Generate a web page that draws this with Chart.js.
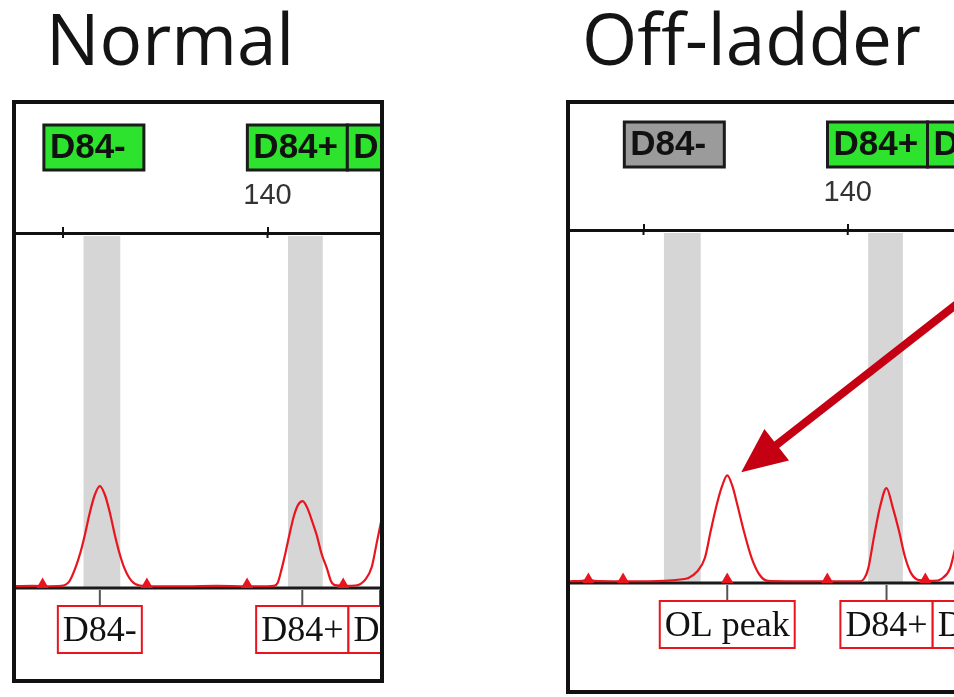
<!DOCTYPE html>
<html>
<head>
<meta charset="utf-8">
<script src="https://cdn.jsdelivr.net/npm/chart.js@4.4.1/dist/chart.umd.min.js"></script>
<style>
  html, body { margin: 0; padding: 0; background: #fff; overflow: hidden; width: 954px; height: 697px; }
  .title { position: absolute; top: 2px; font-family: 'Open Sans', sans-serif; font-size: 71px; line-height: 71px; color: #141414; white-space: nowrap; }
  .panel { position: absolute; border: 4px solid #111; background: #fff; }
  .panel canvas { display: block; }
</style>
</head>
<body>
<div class="title" style="left:46px">Normal</div>
<div class="title" style="left:582px">Off-ladder</div>
<div class="panel" style="left:12px;top:100px;width:364px;height:575px"><canvas id="normal" width="364" height="575"></canvas></div>
<div class="panel" style="left:566px;top:100px;width:388px;height:586px;border-right:none"><canvas id="offladder" width="388" height="586"></canvas></div>
<script>
// size axis (bp)
const TICK_STEP = 10;
const LABELLED_TICKS = [140];

// marker bins (bp)
const binNames = ['D84-', 'D84+'];
const binStart = [131.0, 141.0];
const binEnd = [132.8, 142.7];

// normal sample
const normalBp = [127.7, 128.5, 129.3, 129.9, 130.3, 130.6, 130.85, 131.07, 131.3, 131.55, 131.8, 132.05, 132.3, 132.53, 132.75, 133.0, 133.35, 133.75, 134.5, 136.0, 137.5, 139.0, 140.0, 140.3, 140.5, 140.7, 140.9, 141.07, 141.3, 141.5, 141.72, 141.95, 142.2, 142.4, 142.65, 142.9, 143.1, 143.3, 143.8, 144.3, 144.8, 145.1, 145.35, 145.6];
const normalRfu = [5, 6, 5, 6, 18, 56, 100, 150, 210, 262, 287, 262, 210, 150, 100, 56, 20, 7, 5, 5, 6, 5, 5, 6, 15, 56, 105, 150, 205, 235, 245, 225, 185, 150, 95, 56, 20, 8, 6, 7, 25, 60, 130, 200];
const normalMarks = [129.0, 134.1, 139.0, 143.7];
const normalTopLabels = ['D84-', 'D84+', 'D85'];
const normalTopAt = [131.9, 141.85, 146.0];
const normalTopCalled = [true, true, true];
const normalPeakLabels = ['D84-', 'D84+', 'D85'];
const normalPeakAt = [131.8, 141.7, 145.5];

// off-ladder sample
const offBp = [126.4, 127.0, 127.3, 127.6, 128.5, 129.5, 130.3, 131.0, 131.8, 132.2, 132.6, 133.0, 133.3, 133.6, 133.85, 134.1, 134.35, 134.6, 134.9, 135.3, 135.7, 136.1, 137.0, 138.5, 139.5, 140.2, 140.6, 140.8, 141.0, 141.3, 141.6, 141.9, 142.2, 142.5, 142.8, 143.1, 143.5, 144.2, 144.6, 145.0, 145.25, 145.5];
const offRfu = [5, 6, 9, 6, 5, 5, 5, 6, 10, 14, 31, 70, 150, 225, 275, 305, 275, 220, 150, 70, 22, 6, 5, 5, 5, 5, 5, 12, 40, 135, 220, 269, 215, 150, 75, 28, 8, 6, 12, 40, 95, 150];
const offMarks = [127.3, 129.0, 134.1, 139.0, 143.8];
const offTopLabels = ['D84-', 'D84+', 'D85'];
const offTopAt = [131.9, 141.85, 146.0];
const offTopCalled = [false, true, true];
const offPeakLabels = ['OL peak', 'D84+', 'D85'];
const offPeakAt = [134.1, 141.9, 145.5];

const RED = '#e8141e';

function tracePlugin(cfg) {
  return {
    id: 'trace',
    beforeDatasetsDraw(chart) {
      const { ctx, chartArea: a, scales: { x, y } } = chart;
      const y0 = y.getPixelForValue(0);
      ctx.save();
      ctx.fillStyle = '#d6d6d6';
      binStart.forEach((s, i) => {
        const l = x.getPixelForValue(s);
        const r = x.getPixelForValue(binEnd[i]);
        ctx.fillRect(l, a.top + 3, r - l, y0 - a.top - 3);
      });
      ctx.strokeStyle = '#1a1a1a';
      ctx.lineWidth = 3;
      ctx.beginPath();
      ctx.moveTo(0, y0);
      ctx.lineTo(chart.width, y0);
      ctx.stroke();
      // tick marks cross the size axis
      ctx.strokeStyle = '#111';
      ctx.lineWidth = 2;
      x.ticks.forEach(t => {
        const px = x.getPixelForValue(t.value);
        ctx.beginPath();
        ctx.moveTo(px, a.top);
        ctx.lineTo(px, a.top + 5);
        ctx.stroke();
      });
      ctx.restore();
    },
    afterDraw(chart) {
      const { ctx, chartArea: a, scales: { x, y } } = chart;
      const y0 = y.getPixelForValue(0);
      ctx.save();

      // bin labels above the size axis
      ctx.font = 'bold 35px "Liberation Sans", Arial, sans-serif';
      ctx.textBaseline = 'middle';
      ctx.textAlign = 'left';
      let prev = -Infinity;
      cfg.topLabels.forEach((t, i) => {
        const w = Math.max(ctx.measureText(t).width + 14, 100);
        const left = Math.max(x.getPixelForValue(cfg.topAt[i]) - w / 2 - 8, prev);
        const top = a.top - 108, h = 45;
        ctx.fillStyle = cfg.topCalled[i] ? '#2de32d' : '#9b9b9b';
        ctx.fillRect(left, top, w, h);
        ctx.lineWidth = 3;
        ctx.strokeStyle = '#1b1b1b';
        ctx.strokeRect(left, top, w, h);
        ctx.fillStyle = '#111';
        ctx.fillText(t, left + 6, top + h / 2 + 1);
        prev = left + w;
      });

      // peak labels under the baseline
      ctx.font = '36px "Liberation Serif", "Times New Roman", serif';
      ctx.textAlign = 'center';
      prev = -Infinity;
      cfg.peakLabels.forEach((t, i) => {
        const px = x.getPixelForValue(cfg.peakAt[i]);
        const w = ctx.measureText(t).width + 10;
        const left = Math.max(px - w / 2, prev);
        const top = y0 + 18, h = 47;
        ctx.strokeStyle = '#555';
        ctx.lineWidth = 2;
        ctx.beginPath();
        ctx.moveTo(px, y0 + 2);
        ctx.lineTo(px, top);
        ctx.stroke();
        ctx.fillStyle = '#fff';
        ctx.fillRect(left, top, w, h);
        ctx.strokeStyle = RED;
        ctx.lineWidth = 2;
        ctx.strokeRect(left, top, w, h);
        ctx.fillStyle = '#111';
        ctx.fillText(t, left + w / 2, top + h / 2 + 2);
        prev = left + w;
      });

      // arrow to the off-ladder peak
      if (cfg.arrow) {
        const tx = x.getPixelForValue(cfg.peakAt[0]) + 14;
        const ty = y.getPixelForValue(Math.max(...cfg.rfu)) - 3;
        const dx = 0.788, dy = -0.615;
        ctx.strokeStyle = '#c40012';
        ctx.fillStyle = '#c40012';
        ctx.lineWidth = 8;
        ctx.lineCap = 'butt';
        ctx.beginPath();
        ctx.moveTo(tx + dx * 35, ty + dy * 35);
        ctx.lineTo(tx + dx * 420, ty + dy * 420);
        ctx.stroke();
        ctx.beginPath();
        ctx.moveTo(tx, ty);
        ctx.lineTo(tx + dx * 45 + 0.615 * 20, ty + dy * 45 + 0.788 * 20);
        ctx.lineTo(tx + dx * 45 - 0.615 * 20, ty + dy * 45 - 0.788 * 20);
        ctx.closePath();
        ctx.fill();
      }
      ctx.restore();
    }
  };
}

function panel(id, cfg) {
  return new Chart(document.getElementById(id), {
    type: 'line',
    data: {
      datasets: [
        {
          data: cfg.marks.map(v => ({ x: v, y: 10 })),
          showLine: false,
          pointStyle: 'triangle',
          pointRadius: 7,
          backgroundColor: RED,
          borderWidth: 0,
          order: 0,
          clip: false
        },
        {
          data: cfg.bp.map((v, i) => ({ x: v, y: cfg.rfu[i] })),
          borderColor: RED,
          borderWidth: 2.2,
          pointRadius: 0,
          cubicInterpolationMode: 'monotone',
          order: 1,
          clip: false
        }
      ]
    },
    options: {
      responsive: false,
      animation: false,
      devicePixelRatio: 1,
      events: [],
      layout: { autoPadding: false, padding: { top: 0, left: 0, right: 0, bottom: cfg.bottomSpace } },
      scales: {
        x: {
          type: 'linear',
          position: 'top',
          min: cfg.min,
          max: cfg.max,
          afterFit: s => { s.height = cfg.topSpace; },
          border: { color: '#111', width: 3 },
          grid: { drawOnChartArea: false, color: '#111', lineWidth: 2, tickLength: 6 },
          ticks: {
            stepSize: TICK_STEP,
            includeBounds: false,
            autoSkip: false,
            maxRotation: 0,
            padding: 14,
            color: '#333',
            font: { family: '"Liberation Sans", Arial, sans-serif', size: 29 },
            callback: v => LABELLED_TICKS.includes(v) ? String(v) : ''
          }
        },
        y: { display: false, min: 0, max: 1000 }
      },
      plugins: { legend: { display: false }, tooltip: { enabled: false } }
    },
    plugins: [tracePlugin(cfg)]
  });
}

panel('normal', {
  bp: normalBp, rfu: normalRfu, marks: normalMarks,
  topLabels: normalTopLabels, topAt: normalTopAt, topCalled: normalTopCalled,
  peakLabels: normalPeakLabels, peakAt: normalPeakAt,
  min: 127.7, max: 145.5, topSpace: 129, bottomSpace: 91, arrow: false
});

panel('offladder', {
  bp: offBp, rfu: offRfu, marks: offMarks,
  topLabels: offTopLabels, topAt: offTopAt, topCalled: offTopCalled,
  peakLabels: offPeakLabels, peakAt: offPeakAt,
  min: 126.4, max: 145.4, topSpace: 126, bottomSpace: 107, arrow: true
});
</script>
</body>
</html>
